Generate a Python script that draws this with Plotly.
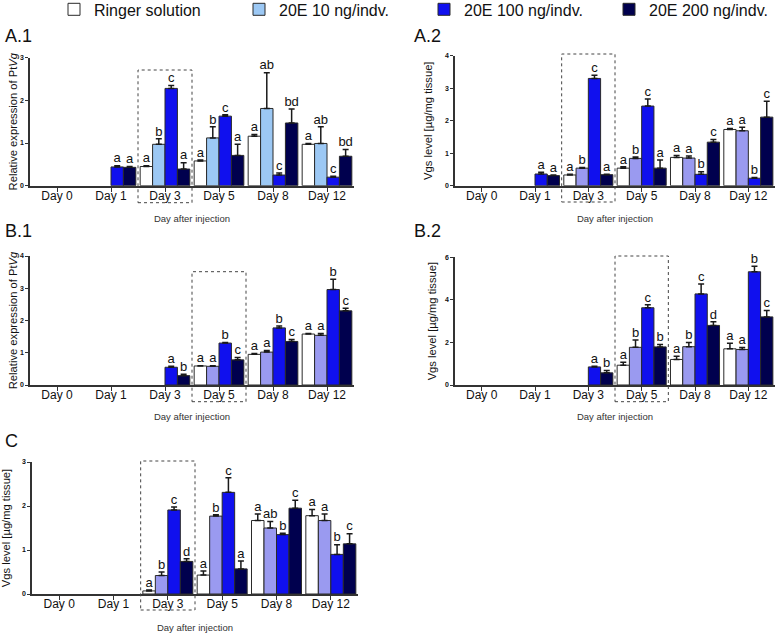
import plotly.graph_objects as go
import numpy as np

W, H = 778, 633

days = ["Day 0", "Day 1", "Day 3", "Day 5", "Day 8", "Day 12"]
series_names = ["Ringer solution", "20E 10 ng/indv.", "20E 100 ng/indv.", "20E 200 ng/indv."]

# ---- Panel A.1 : relative expression of PtVg ----
A1_ringer = [None, None, 0.45, 0.58, 1.16, 0.97]
A1_e10 = [None, None, 0.97, 1.12, 1.81, 0.99]
A1_e100 = [None, 0.44, 2.28, 1.63, 0.25, 0.20]
A1_e200 = [None, 0.43, 0.39, 0.71, 1.47, 0.69]
A1_ringer_err = [None, None, 0.02, 0.02, 0.04, 0.02]
A1_e10_err = [None, None, 0.13, 0.26, 0.84, 0.39]
A1_e100_err = [None, 0.03, 0.07, 0.03, 0.05, 0.02]
A1_e200_err = [None, 0.02, 0.15, 0.26, 0.33, 0.16]
A1_ringer_lbl = ["", "", "a", "a", "a", "a"]
A1_e10_lbl = ["", "", "b", "b", "ab", "ab"]
A1_e100_lbl = ["", "a", "c", "c", "c", "c"]
A1_e200_lbl = ["", "a", "a", "a", "bd", "bd"]

# ---- Panel A.2 : Vgs level ----
A2_ringer = [None, None, 0.33, 0.54, 0.87, 1.73]
A2_e10 = [None, None, 0.54, 0.84, 0.85, 1.69]
A2_e100 = [None, 0.36, 3.30, 2.45, 0.35, 0.23]
A2_e200 = [None, 0.31, 0.34, 0.54, 1.34, 2.11]
A2_ringer_err = [None, None, 0.02, 0.04, 0.06, 0.03]
A2_e10_err = [None, None, 0.02, 0.04, 0.06, 0.11]
A2_e100_err = [None, 0.05, 0.10, 0.22, 0.08, 0.02]
A2_e200_err = [None, 0.02, 0.01, 0.25, 0.08, 0.49]
A2_ringer_lbl = ["", "", "a", "a", "a", "a"]
A2_e10_lbl = ["", "", "b", "b", "a", "a"]
A2_e100_lbl = ["", "a", "c", "c", "b", "b"]
A2_e200_lbl = ["", "a", "a", "a", "c", "c"]

# ---- Panel B.1 : relative expression of PtVg ----
B1_ringer = [None, None, None, 0.59, 0.95, 1.58]
B1_e10 = [None, None, None, 0.58, 1.02, 1.54]
B1_e100 = [None, None, 0.55, 1.30, 1.77, 2.96]
B1_e200 = [None, None, 0.29, 0.78, 1.35, 2.30]
B1_ringer_err = [None, None, None, 0.01, 0.03, 0.02]
B1_e10_err = [None, None, None, 0.02, 0.05, 0.06]
B1_e100_err = [None, None, 0.03, 0.02, 0.06, 0.32]
B1_e200_err = [None, None, 0.04, 0.07, 0.06, 0.08]
B1_ringer_lbl = ["", "", "", "a", "a", "a"]
B1_e10_lbl = ["", "", "", "a", "a", "a"]
B1_e100_lbl = ["", "", "a", "b", "b", "b"]
B1_e200_lbl = ["", "", "b", "c", "c", "c"]

# ---- Panel B.2 : Vgs level ----
B2_ringer = [None, None, None, 0.93, 1.20, 1.70]
B2_e10 = [None, None, None, 1.77, 1.80, 1.67]
B2_e100 = [None, None, 0.85, 3.63, 4.28, 5.32]
B2_e200 = [None, None, 0.57, 1.79, 2.80, 3.20]
B2_ringer_err = [None, None, None, 0.14, 0.15, 0.26]
B2_e10_err = [None, None, None, 0.35, 0.20, 0.09]
B2_e100_err = [None, None, 0.03, 0.14, 0.46, 0.26]
B2_e200_err = [None, None, 0.11, 0.11, 0.17, 0.30]
B2_ringer_lbl = ["", "", "", "a", "a", "a"]
B2_e10_lbl = ["", "", "", "b", "b", "a"]
B2_e100_lbl = ["", "", "a", "c", "c", "b"]
B2_e200_lbl = ["", "", "b", "b", "d", "c"]

# ---- Panel C : Vgs level ----
C_ringer = [None, None, 0.07, 0.43, 1.67, 1.78]
C_e10 = [None, None, 0.42, 1.77, 1.50, 1.67]
C_e100 = [None, None, 1.91, 2.31, 1.35, 0.90]
C_e200 = [None, None, 0.74, 0.57, 1.95, 1.14]
C_ringer_err = [None, None, 0.02, 0.09, 0.15, 0.14]
C_e10_err = [None, None, 0.08, 0.03, 0.15, 0.15]
C_e100_err = [None, None, 0.07, 0.33, 0.03, 0.22]
C_e200_err = [None, None, 0.06, 0.18, 0.18, 0.23]
C_ringer_lbl = ["", "", "a", "a", "a", "a"]
C_e10_lbl = ["", "", "b", "b", "ab", "a"]
C_e100_lbl = ["", "", "c", "c", "b", "b"]
C_e200_lbl = ["", "", "d", "a", "c", "c"]

# ---------------- styling ----------------
FONT = "Liberation Sans, Arial, sans-serif"
AX = "#333333"
WHITE = "#ffffff"
LIGHTBLUE = "#9cc8f4"
LAVENDER = "#9a9af0"
BLUE = "#1010ee"
NAVY = "#00004e"

YT_PT = "Relative expression of Pt<i>Vg</i>"
YT_VG = "Vgs level [µg/mg tissue]"

def px_x(p):
    return p / W

def px_y(p):
    return 1 - p / H

panels = [
    dict(name="A.1", ax="", vals=[A1_ringer, A1_e10, A1_e100, A1_e200],
         errs=[A1_ringer_err, A1_e10_err, A1_e100_err, A1_e200_err],
         lbls=[A1_ringer_lbl, A1_e10_lbl, A1_e100_lbl, A1_e200_lbl],
         colors=[WHITE, LIGHTBLUE, BLUE, NAVY], ymax=3, dtick=1, ytitle=YT_PT,
         xd=(30, 354), yd=(57.7, 185.7), box=2, boxy=(70, 202.7), lab=(3, 36), stand=0, xstand=13),
    dict(name="A.2", ax="2", vals=[A2_ringer, A2_e10, A2_e100, A2_e200],
         errs=[A2_ringer_err, A2_e10_err, A2_e100_err, A2_e200_err],
         lbls=[A2_ringer_lbl, A2_e10_lbl, A2_e100_lbl, A2_e200_lbl],
         colors=[WHITE, LAVENDER, BLUE, NAVY], ymax=4, dtick=1, ytitle=YT_VG,
         xd=(455, 775), yd=(55.7, 185.7), box=2, boxy=(54, 202), lab=(412, 36), stand=10, xstand=13),
    dict(name="B.1", ax="3", vals=[B1_ringer, B1_e10, B1_e100, B1_e200],
         errs=[B1_ringer_err, B1_e10_err, B1_e100_err, B1_e200_err],
         lbls=[B1_ringer_lbl, B1_e10_lbl, B1_e100_lbl, B1_e200_lbl],
         colors=[WHITE, LAVENDER, BLUE, NAVY], ymax=4, dtick=1, ytitle=YT_PT,
         xd=(30, 354), yd=(256, 385), box=3, boxy=(271.7, 401.7), lab=(3, 231), stand=0, xstand=12),
    dict(name="B.2", ax="4", vals=[B2_ringer, B2_e10, B2_e100, B2_e200],
         errs=[B2_ringer_err, B2_e10_err, B2_e100_err, B2_e200_err],
         lbls=[B2_ringer_lbl, B2_e10_lbl, B2_e100_lbl, B2_e200_lbl],
         colors=[WHITE, LAVENDER, BLUE, NAVY], ymax=6, dtick=2, ytitle=YT_VG,
         xd=(455, 775), yd=(257.3, 385), box=3, boxy=(256, 401.7), lab=(412, 231), stand=6, xstand=12),
    dict(name="C", ax="5", vals=[C_ringer, C_e10, C_e100, C_e200],
         errs=[C_ringer_err, C_e10_err, C_e100_err, C_e200_err],
         lbls=[C_ringer_lbl, C_e10_lbl, C_e100_lbl, C_e200_lbl],
         colors=[WHITE, LAVENDER, BLUE, NAVY], ymax=3, dtick=1, ytitle=YT_VG,
         xd=(32, 358), yd=(462, 594), box=2, boxy=(461, 610), lab=(3, 441), stand=17, xstand=14),
]

BW = 0.23
offsets = [(k - 1.5) * BW for k in range(4)]
idx = np.arange(len(days))

fig = go.Figure()
layout = dict(shapes=[], annotations=[])

for pi, p in enumerate(panels):
    xa = "x" + p["ax"]
    ya = "y" + p["ax"]
    for k in range(4):
        xs = idx + offsets[k]
        vals = p["vals"][k]
        errs = [e if e is not None else 0 for e in p["errs"][k]]
        fig.add_trace(go.Bar(
            x=xs, y=vals, width=BW, xaxis=xa, yaxis=ya,
            name=series_names[k], legendgroup=series_names[k], showlegend=(pi == 0),
            marker=dict(color=p["colors"][k], line=dict(color="#2a2a2a", width=1)),
            error_y=dict(type="data", symmetric=False, array=errs,
                         arrayminus=[0] * len(errs), color="#1a1a1a",
                         thickness=1.5, width=3),
            hoverinfo="skip",
        ))
        tops = [(v + e) if v is not None else None for v, e in zip(vals, errs)]
        fig.add_trace(go.Scatter(
            x=xs, y=tops, xaxis=xa, yaxis=ya, mode="text",
            text=p["lbls"][k], textposition="top center",
            textfont=dict(family=FONT, size=13, color="#111111"),
            showlegend=False, cliponaxis=False, hoverinfo="skip",
        ))
    key_x = "xaxis" + p["ax"]
    key_y = "yaxis" + p["ax"]
    layout[key_x] = dict(
        domain=[px_x(p["xd"][0]), px_x(p["xd"][1])], anchor=ya,
        range=[-0.5, 5.5], tickmode="array", tickvals=list(idx), ticktext=days,
        showline=True, linecolor=AX, linewidth=2, ticks="outside", ticklen=4,
        tickwidth=1.2, tickcolor=AX, showgrid=False, zeroline=False,
        ticklabelstandoff=-6,
        tickfont=dict(family=FONT, size=12, color="#111111"), automargin=False,
        title=dict(text="Day after injection", standoff=p["xstand"],
                   font=dict(family=FONT, size=9.5, color="#333333")),
    )
    layout[key_y] = dict(
        domain=[px_y(p["yd"][1]), px_y(p["yd"][0])], anchor=xa,
        range=[0, p["ymax"]], dtick=p["dtick"], tick0=0,
        showline=True, linecolor=AX, linewidth=1.5, ticks="outside", ticklen=3,
        tickwidth=1, tickcolor=AX, showgrid=False, zeroline=False,
        tickfont=dict(family=FONT, size=7, color="#111111", weight="bold"),
        automargin=False,
        title=dict(text=p["ytitle"], standoff=p["stand"],
                   font=dict(family=FONT, size=11.2, color="#111111")),
    )
    b = p["box"]
    layout["shapes"].append(dict(
        type="rect", xref=xa, yref="paper", x0=b - 0.5, x1=b + 0.5,
        y0=px_y(p["boxy"][1]), y1=px_y(p["boxy"][0]),
        line=dict(color="#444444", width=1, dash="dot"), fillcolor="rgba(0,0,0,0)",
        layer="above",
    ))
    layout["annotations"].append(dict(
        text=p["name"], xref="paper", yref="paper", x=px_x(p["lab"][0]), y=px_y(p["lab"][1]),
        xanchor="left", yanchor="middle", showarrow=False,
        font=dict(family=FONT, size=18, color="#111111"),
    ))

fig.update_layout(
    width=W, height=H,
    margin=dict(l=0, r=0, t=0, b=0, autoexpand=False),
    paper_bgcolor="white", plot_bgcolor="white",
    barmode="overlay",
    showlegend=True,
    legend=dict(orientation="h", x=px_x(54), y=1.012, xanchor="left", yanchor="top",
                entrywidth=140, entrywidthmode="pixels", traceorder="normal",
                font=dict(family=FONT, size=16, color="#111111"),
                bgcolor="rgba(0,0,0,0)", borderwidth=0),
    **layout,
)

fig.write_html("out.html", config={"displayModeBar": False},
               post_script="document.body.style.margin='0px';")
